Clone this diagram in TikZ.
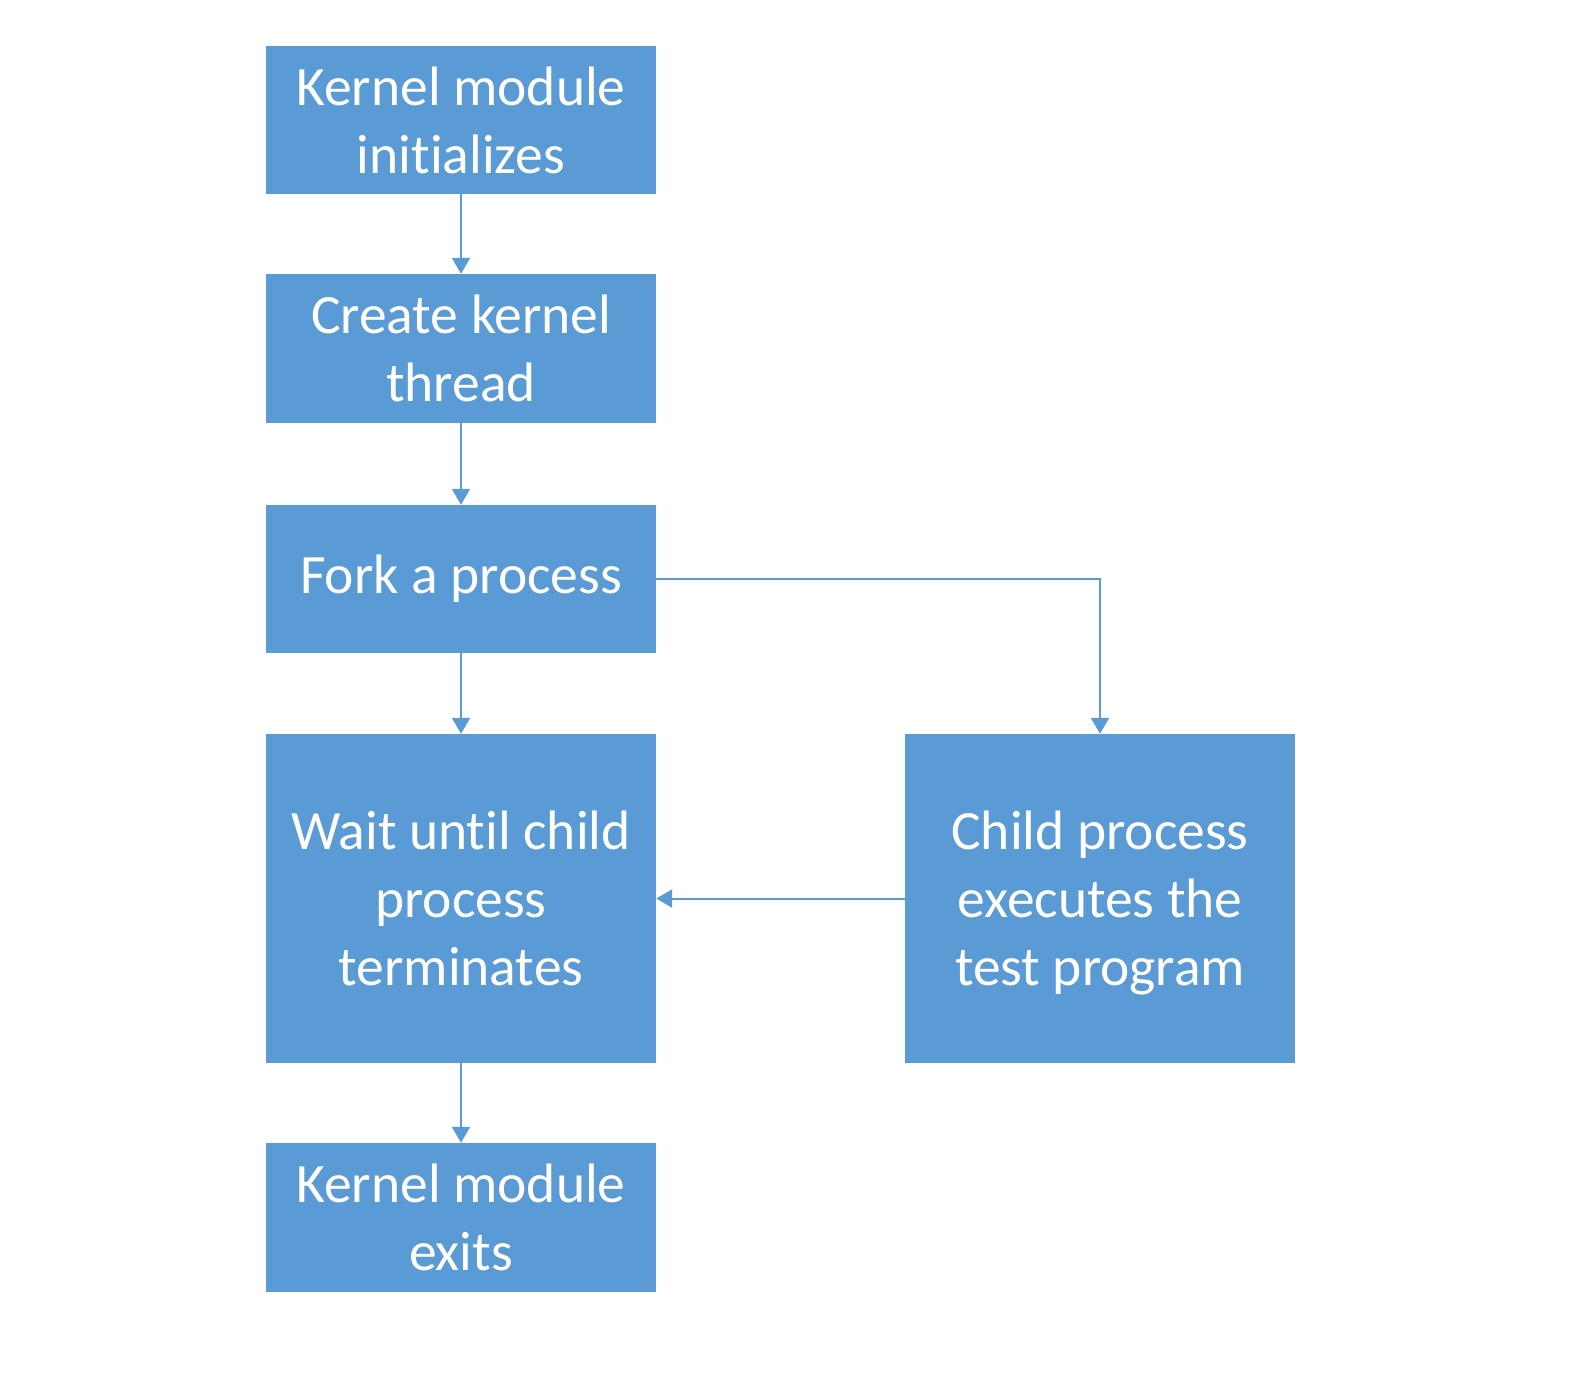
\documentclass[tikz,border=0pt]{standalone}
\usepackage{fontspec}
\setmainfont{Carlito}[Ligatures=NoCommon]
\usetikzlibrary{arrows.meta}
\definecolor{boxblue}{HTML}{5B9BD5}
\begin{document}
\begin{tikzpicture}[x=1pt,y=-1pt,
  flowbox/.style={fill=boxblue,draw=none,inner sep=0pt,minimum width=390pt,
    text=white,align=center,font=\fontsize{55.5}{68}\selectfont},
  conn/.style={draw=boxblue,line width=2pt,-{Triangle[width=18pt,length=16pt]}}]
\useasboundingbox[fill=white] (0,0) rectangle (1570,1390);
\node[flowbox,minimum height=148pt] (init) at (461,120) {Kernel module\\initializes};
\node[flowbox,minimum height=149pt] (thread) at (461,348.5) {Create kernel\\thread};
\node[flowbox,minimum height=148pt] (fork) at (461,579) {Fork a process};
\node[flowbox,minimum height=329pt] (wait) at (461,898.5) {Wait until child\\process\\terminates};
\node[flowbox,minimum height=329pt] (child) at (1100,898.5) {Child process\\executes the\\\raisebox{0pt}[\height][0pt]{test program}};
\node[flowbox,minimum height=149pt] (exit) at (461,1217.5) {Kernel module\\exits};
\draw[conn] (init) -- (thread);
\draw[conn] (thread) -- (fork);
\draw[conn] (fork) -- (wait);
\draw[conn] (wait) -- (exit);
\draw[conn] (fork.east) -| (child.north);
\draw[conn] (child.west) -- (wait.east);
\end{tikzpicture}
\end{document}
